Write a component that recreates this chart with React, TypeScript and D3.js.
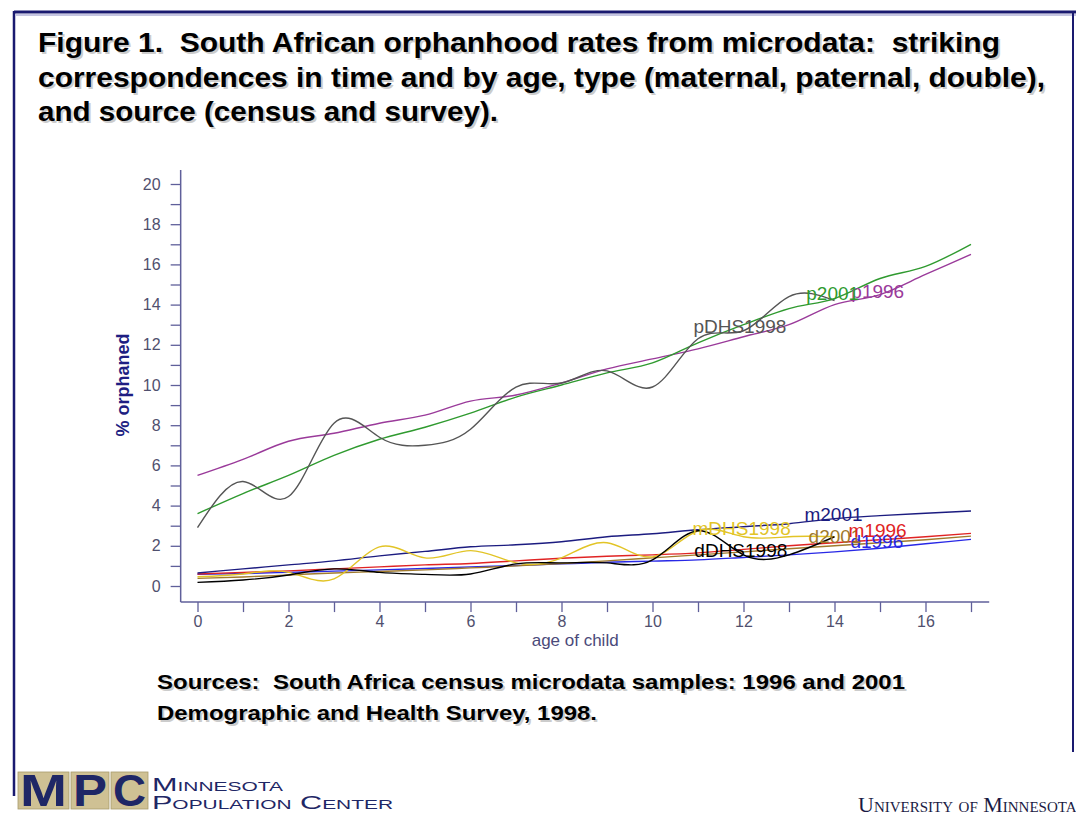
import React, { useEffect, useRef } from 'react';
import * as d3 from 'd3';

// ages of child, census (0-17) and DHS survey (0-14)
const ages = [0, 1, 2, 3, 4, 5, 6, 7, 8, 9, 10, 11, 12, 13, 14, 15, 16, 17];
const dhsAges = [0, 1, 2, 3, 4, 5, 6, 7, 8, 9, 10, 11, 12, 13, 14];

// paternal
const p1996 = [5.5, 6.3, 7.2, 7.6, 8.1, 8.5, 9.2, 9.5, 10.1, 10.8, 11.3, 11.8, 12.4, 13.0, 14.0, 14.5, 15.5, 16.5];
const p2001 = [3.6, 4.6, 5.5, 6.5, 7.3, 7.9, 8.6, 9.4, 10.0, 10.6, 11.1, 12.1, 13.0, 13.8, 14.3, 15.3, 15.9, 17.0];
const pDHS1998 = [2.9, 5.2, 4.45, 8.1, 7.4, 7.0, 7.8, 9.9, 10.1, 10.7, 9.9, 12.3, 12.7, 14.4, 14.2];

// maternal
const m2001 = [0.65, 0.85, 1.05, 1.25, 1.5, 1.72, 1.95, 2.05, 2.2, 2.45, 2.6, 2.8, 2.95, 3.1, 3.35, 3.5, 3.62, 3.73];
const m1996 = [0.6, 0.68, 0.75, 0.85, 0.95, 1.05, 1.12, 1.25, 1.38, 1.48, 1.55, 1.65, 1.82, 2.0, 2.15, 2.3, 2.45, 2.62];
const mDHS1998 = [0.46, 0.6, 0.68, 0.35, 1.95, 1.4, 1.76, 1.15, 1.4, 2.15, 1.45, 2.75, 2.45, 2.45, 2.45];

// double
const d2001 = [0.38, 0.45, 0.55, 0.65, 0.72, 0.8, 0.9, 1.0, 1.12, 1.25, 1.4, 1.55, 1.7, 1.85, 2.0, 2.15, 2.3, 2.48];
const d1996 = [0.58, 0.62, 0.68, 0.74, 0.8, 0.87, 0.95, 1.02, 1.1, 1.18, 1.24, 1.3, 1.42, 1.55, 1.7, 1.88, 2.1, 2.32];
const dDHS1998 = [0.18, 0.3, 0.55, 0.85, 0.68, 0.58, 0.6, 1.1, 1.15, 1.15, 1.3, 2.75, 1.55, 1.55, 2.45];

const yTicks = [0, 1, 2, 3, 4, 5, 6, 7, 8, 9, 10, 11, 12, 13, 14, 15, 16, 17, 18, 19, 20];
const xTicks = [0, 1, 2, 3, 4, 5, 6, 7, 8, 9, 10, 11, 12, 13, 14, 15, 16, 17];

const titleLines = [
  'Figure 1. \u00a0South African orphanhood rates from microdata: \u00a0striking',
  'correspondences in time and by age, type (maternal, paternal, double),',
  'and source (census and survey).',
];
const sourceLines = [
  'Sources: \u00a0South Africa census microdata samples: 1996 and 2001',
  'Demographic and Health Survey, 1998.',
];

const FONT = '"Liberation Sans", Arial, sans-serif';

interface Series {
  name: string;
  x: number[];
  y: number[];
  color: string;
  curve: d3.CurveFactory;
  label: [number, number]; // where the label sits, in data units
}

const series: Series[] = [
  { name: 'd1996', x: ages, y: d1996, color: '#2828e6', curve: d3.curveMonotoneX, label: [14.35, 1.89] },
  { name: 'd2001', x: ages, y: d2001, color: '#a07a2c', curve: d3.curveMonotoneX, label: [13.43, 2.14] },
  { name: 'm1996', x: ages, y: m1996, color: '#e02424', curve: d3.curveMonotoneX, label: [14.31, 2.44] },
  { name: 'm2001', x: ages, y: m2001, color: '#1c1c80', curve: d3.curveMonotoneX, label: [13.34, 3.23] },
  { name: 'mDHS1998', x: dhsAges, y: mDHS1998, color: '#e2c426', curve: d3.curveNatural, label: [10.88, 2.54] },
  { name: 'dDHS1998', x: dhsAges, y: dDHS1998, color: '#000000', curve: d3.curveNatural, label: [10.92, 1.44] },
  { name: 'p1996', x: ages, y: p1996, color: '#9a3a9a', curve: d3.curveMonotoneX, label: [14.37, 14.33] },
  { name: 'p2001', x: ages, y: p2001, color: '#2f9a2f', curve: d3.curveMonotoneX, label: [13.38, 14.23] },
  { name: 'pDHS1998', x: dhsAges, y: pDHS1998, color: '#555555', curve: d3.curveNatural, label: [10.9, 12.6] },
];

const OrphanChart: React.FC = () => {
  const svgRef = useRef<SVGSVGElement>(null);

  useEffect(() => {
    if (!svgRef.current) return;
    const svg = d3.select(svgRef.current);
    svg.selectAll('*').remove();

    const width = 1076;
    const height = 814;

    svg.append('rect').attr('width', width).attr('height', height).attr('fill', '#fff');

    // slide frame
    svg.append('line').attr('x1', 14).attr('x2', width).attr('y1', 12).attr('y2', 12)
      .attr('stroke', '#1a1a70').attr('stroke-width', 3);
    svg.append('line').attr('x1', 16).attr('x2', width).attr('y1', 15).attr('y2', 15)
      .attr('stroke', '#8c8cc4').attr('stroke-width', 1);
    svg.append('line').attr('x1', 14).attr('x2', 14).attr('y1', 11).attr('y2', 796)
      .attr('stroke', '#1a1a70').attr('stroke-width', 2.5);
    svg.append('line').attr('x1', 1073).attr('x2', 1073).attr('y1', 11).attr('y2', 752)
      .attr('stroke', '#1a1a70').attr('stroke-width', 2);

    // title with a soft drop shadow
    const titleWidths = [962, 1007, 460];
    const title = svg.append('g').attr('font-family', FONT).attr('font-weight', 'bold').attr('font-size', 28);
    titleLines.forEach((t, i) => {
      [{ dx: 2, dy: 2, c: '#cccccc' }, { dx: 0, dy: 0, c: '#000' }].forEach((o) => {
        title.append('text').attr('x', 38 + o.dx).attr('y', 52 + i * 34.5 + o.dy).attr('fill', o.c)
          .attr('textLength', titleWidths[i]).attr('lengthAdjust', 'spacingAndGlyphs')
          .text(t);
      });
    });

    const x = d3.scaleLinear().domain([0, 16]).range([197.5, 925.5]);
    const y = d3.scaleLinear().domain([0, 20]).range([586, 184]);
    const axisColor = '#5f5f9a';
    const tickText = '#50506e';

    // y axis
    const yAxis = svg.append('g')
      .attr('transform', `translate(${x(-0.37)},0)`)
      .call(
        d3.axisLeft(y)
          .tickValues(yTicks)
          .tickSize(10)
          .tickPadding(10)
          .tickFormat((d) => ((d as number) % 2 === 0 ? String(d) : ''))
      );
    yAxis.select('.domain').remove();
    yAxis.selectAll('line').attr('stroke', axisColor).attr('stroke-width', 1.3);
    yAxis.selectAll('text').attr('fill', tickText).attr('font-family', FONT).attr('font-size', 16);
    yAxis.append('line').attr('x1', 0).attr('x2', 0).attr('y1', y(20.7)).attr('y2', y(-0.8))
      .attr('stroke', axisColor).attr('stroke-width', 1.5);

    // x axis
    const xAxis = svg.append('g')
      .attr('transform', `translate(0,${y(-0.8)})`)
      .call(
        d3.axisBottom(x)
          .tickValues(xTicks)
          .tickSize(10)
          .tickPadding(4)
          .tickFormat((d) => ((d as number) % 2 === 0 ? String(d) : ''))
      );
    xAxis.select('.domain').remove();
    xAxis.selectAll('line').attr('stroke', axisColor).attr('stroke-width', 1.3);
    xAxis.selectAll('text').attr('fill', tickText).attr('font-family', FONT).attr('font-size', 16);
    xAxis.append('line').attr('x1', x(-0.37)).attr('x2', x(17.4)).attr('y1', 0).attr('y2', 0)
      .attr('stroke', axisColor).attr('stroke-width', 1.5);

    svg.append('text')
      .attr('x', x(8.3)).attr('y', 646)
      .attr('text-anchor', 'middle')
      .attr('font-family', FONT).attr('font-size', 17).attr('fill', '#4a4a7a')
      .text('age of child');

    svg.append('text')
      .attr('transform', `translate(129,${y(10)}) rotate(-90)`)
      .attr('text-anchor', 'middle')
      .attr('font-family', FONT).attr('font-size', 18).attr('font-weight', 'bold').attr('fill', '#1e1e82')
      .text('% orphaned');

    // series lines
    series.forEach((s) => {
      const pts = s.x.map((a, i) => [a, s.y[i]] as [number, number]);
      const line = d3.line<[number, number]>()
        .x((d) => x(d[0]))
        .y((d) => y(d[1]))
        .curve(s.curve);
      svg.append('path')
        .datum(pts)
        .attr('d', line)
        .attr('fill', 'none')
        .attr('stroke', s.color)
        .attr('stroke-width', 1.4);
    });

    // series labels
    series.forEach((s) => {
      svg.append('text')
        .attr('x', x(s.label[0])).attr('y', y(s.label[1]))
        .attr('font-family', FONT).attr('font-size', 19)
        .attr('fill', s.color)
        .text(s.name);
    });

    // sources note
    const srcWidths = [748, 440];
    const src = svg.append('g').attr('font-family', FONT).attr('font-weight', 'bold').attr('font-size', 21);
    sourceLines.forEach((t, i) => {
      [{ dx: 2, dy: 2, c: '#cccccc' }, { dx: 0, dy: 0, c: '#000' }].forEach((o) => {
        src.append('text').attr('x', 157 + o.dx).attr('y', 689 + i * 31 + o.dy).attr('fill', o.c)
          .attr('textLength', srcWidths[i]).attr('lengthAdjust', 'spacingAndGlyphs')
          .text(t);
      });
    });

    // MPC logo
    const logo = svg.append('g');
    const boxes = [
      { ch: 'M', x0: 18, w: 51 },
      { ch: 'P', x0: 71, w: 38 },
      { ch: 'C', x0: 111, w: 37 },
    ];
    boxes.forEach((b) => {
      logo.append('rect').attr('x', b.x0).attr('y', 772).attr('width', b.w).attr('height', 37)
        .attr('fill', '#cfc194').attr('stroke', '#a89b6c').attr('stroke-width', 0.8);
      logo.append('text')
        .attr('x', b.x0 + b.w / 2).attr('y', 806)
        .attr('text-anchor', 'middle')
        .attr('font-family', FONT)
        .attr('font-weight', 'bold').attr('font-size', 44)
        .attr('fill', '#1f2766')
        .attr('textLength', b.w - 4).attr('lengthAdjust', 'spacingAndGlyphs')
        .text(b.ch);
    });
    logo.append('text').attr('x', 152).attr('y', 791)
      .attr('font-family', FONT).attr('font-size', 19).attr('font-variant', 'small-caps')
      .attr('fill', '#1f2766').attr('textLength', 131).attr('lengthAdjust', 'spacingAndGlyphs')
      .text('Minnesota');
    logo.append('text').attr('x', 152).attr('y', 809)
      .attr('font-family', FONT).attr('font-size', 19).attr('font-variant', 'small-caps')
      .attr('fill', '#1f2766').attr('textLength', 241).attr('lengthAdjust', 'spacingAndGlyphs')
      .text('Population Center');

    svg.append('text').attr('x', 858).attr('y', 812)
      .attr('font-family', '"Liberation Serif", "Times New Roman", serif').attr('font-size', 22)
      .attr('font-variant', 'small-caps').attr('fill', '#1a1a44')
      .text('University of Minnesota');
  }, []);

  return (
    <svg
      ref={svgRef}
      width={1076}
      height={814}
      style={{ position: 'absolute', left: 0, top: 0 }}
    ></svg>
  );
};

export default function App() {
  return <OrphanChart />;
}
